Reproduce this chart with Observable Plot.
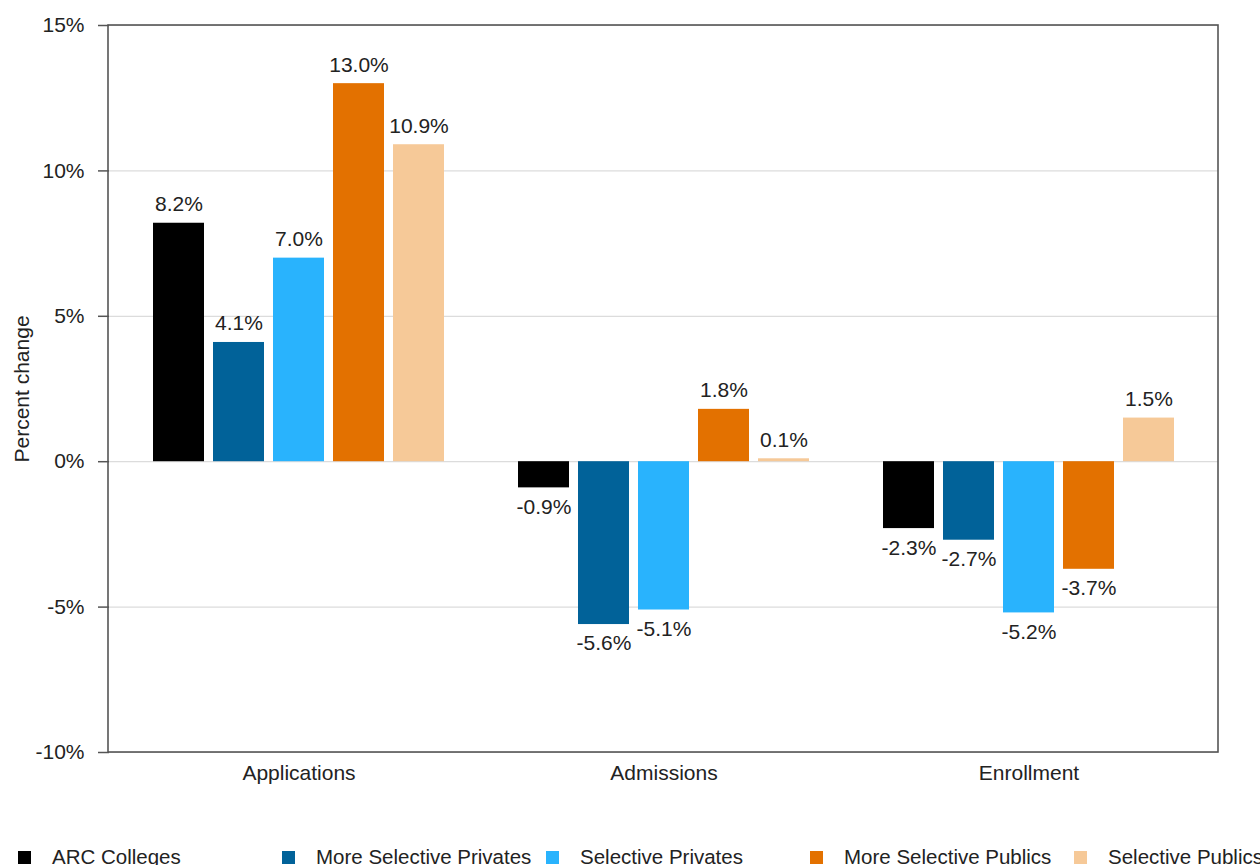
<!DOCTYPE html>
<html>
<head>
<meta charset="utf-8">
<script src="https://cdn.jsdelivr.net/npm/d3@7"></script>
<script src="https://cdn.jsdelivr.net/npm/@observablehq/plot@0.6"></script>
<style>
  html, body { margin: 0; padding: 0; background: #fff; }
  body { width: 1260px; height: 865px; overflow: hidden; font-family: "Liberation Sans", Arial, sans-serif; }
  #legend { position: relative; height: 65px; }
  .item { position: absolute; top: 45px; display: flex; align-items: center; font-size: 20.5px; color: #222; white-space: nowrap; }
  .sw { width: 13px; height: 13px; margin-right: 21px; }
</style>
</head>
<body>
<div id="chart"></div>
<div id="legend"></div>
<script>
const categories = ["Applications", "Admissions", "Enrollment"];
const seriesNames = ["ARC Colleges", "More Selective Privates", "Selective Privates", "More Selective Publics", "Selective Publics"];
const seriesColors = ["#000000", "#016299", "#29b3fd", "#e37100", "#f6c998"];
const applications = [8.2, 4.1, 7.0, 13.0, 10.9];
const admissions = [-0.9, -5.6, -5.1, 1.8, 0.1];
const enrollment = [-2.3, -2.7, -5.2, -3.7, 1.5];
const yTicks = [-10, -5, 0, 5, 10, 15];

(function () {
const valuesByCategory = [applications, admissions, enrollment];
const data = [];
categories.forEach((c, i) => {
  seriesNames.forEach((s, j) => data.push({category: c, series: s, value: valuesByCategory[i][j]}));
});
const gridRows = [];
categories.forEach(c => yTicks.forEach(t => gridRows.push({category: c, tick: t})));

const fmt = v => v.toFixed(1) + "%";
const FS = 21;
const OUT = 7; // outer gap between frame and first/last facet
const gridStyle = {stroke: "#dcdcdc", strokeWidth: 1.2};

const plot = Plot.plot({
  width: 1260,
  height: 800,
  marginLeft: 108,
  marginRight: 42,
  marginTop: 25,
  marginBottom: 48,
  style: {fontFamily: "'Liberation Sans', Arial, sans-serif", fontSize: FS + "px", color: "#222", background: "#fff"},
  fx: {domain: categories, paddingInner: 0, paddingOuter: 0.019},
  x: {domain: seriesNames, paddingInner: 0.15, paddingOuter: 0.57, axis: null},
  y: {domain: [-10, 15], ticks: yTicks},
  color: {domain: seriesNames, range: seriesColors},
  marks: [
    Plot.ruleY(gridRows.filter(d => d.category === categories[0]), {fx: "category", y: "tick", ...gridStyle, insetLeft: -OUT}),
    Plot.ruleY(gridRows.filter(d => d.category === categories[1]), {fx: "category", y: "tick", ...gridStyle}),
    Plot.ruleY(gridRows.filter(d => d.category === categories[2]), {fx: "category", y: "tick", ...gridStyle, insetRight: -OUT}),
    Plot.axisY(yTicks, {
      tickSize: 11, tickPadding: 14, tickFormat: d => d + "%", dx: -OUT,
      label: "Percent change", labelAnchor: "center", labelArrow: "none", labelOffset: 102,
      stroke: "#555", strokeWidth: 1.5, fontSize: FS
    }),
    Plot.axisFx({anchor: "bottom", tickSize: 0, tickPadding: 13, label: null, fontSize: FS}),
    Plot.barY(data, {fx: "category", x: "series", y: "value", fill: "series"}),
    Plot.text(data.filter(d => d.value >= 0), {
      fx: "category", x: "series", y: "value", text: d => fmt(d.value),
      lineAnchor: "bottom", dy: -12, fill: "#222", fontSize: FS
    }),
    Plot.text(data.filter(d => d.value < 0), {
      fx: "category", x: "series", y: "value", text: d => fmt(d.value),
      lineAnchor: "top", dy: 11, fill: "#222", fontSize: FS
    })
  ]
});

// outer frame around the whole plotting area
const svgNode = plot.tagName.toLowerCase() === "svg" ? plot : plot.querySelector("svg");
const svg = d3.select(svgNode);
const yScale = plot.scale("y");
const yTop = Math.min(...yScale.range), yBottom = Math.max(...yScale.range);
svg.append("rect")
  .attr("x", 108).attr("y", yTop)
  .attr("width", 1260 - 108 - 42).attr("height", yBottom - yTop)
  .attr("fill", "none").attr("stroke", "#555").attr("stroke-width", 1.6);

document.getElementById("chart").appendChild(plot);

// legend
const legend = document.getElementById("legend");
seriesNames.forEach((s, i) => {
  const item = document.createElement("div");
  item.className = "item";
  item.style.left = (18 + i * 264) + "px";
  const sw = document.createElement("span");
  sw.className = "sw";
  sw.style.background = seriesColors[i];
  const t = document.createElement("span");
  t.textContent = s;
  item.appendChild(sw);
  item.appendChild(t);
  legend.appendChild(item);
});
})();
</script>
</body>
</html>
